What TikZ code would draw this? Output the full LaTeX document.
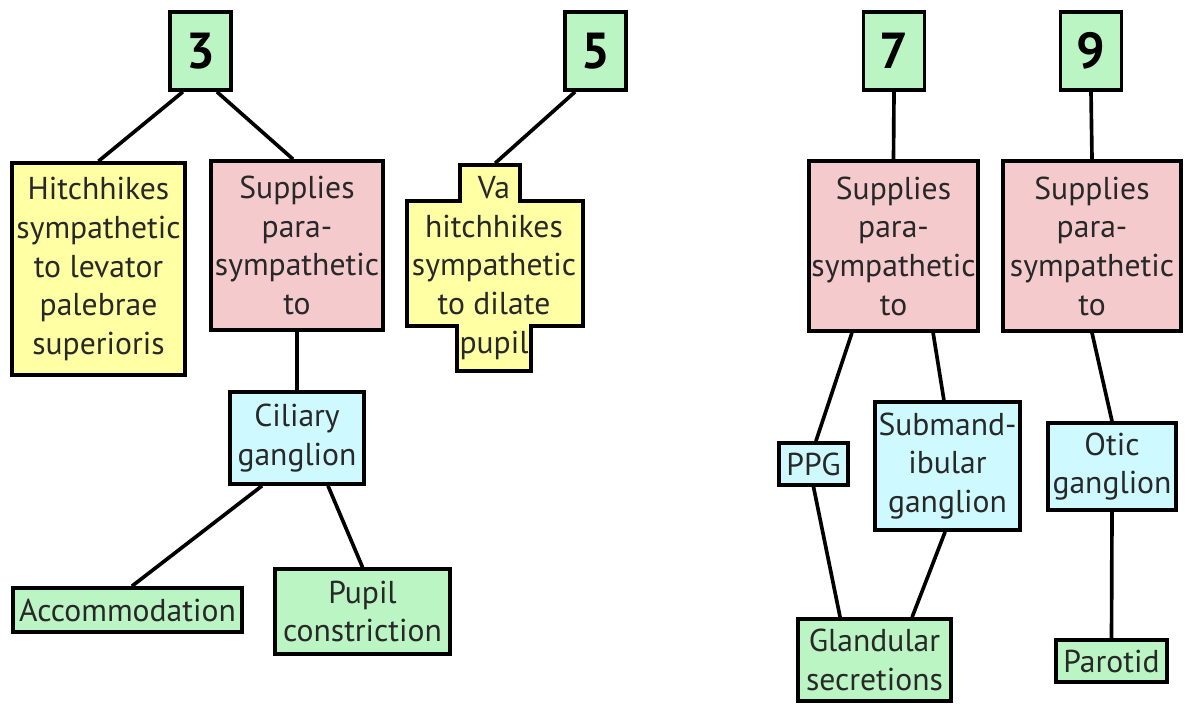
\documentclass[tikz,border=0pt]{standalone}
\usepackage{fontspec}
\setmainfont{PT Sans}
\usepackage{tikz}
\usetikzlibrary{positioning, calc}

\definecolor{numgreen}{RGB}{187,245,196}
\definecolor{hitchyellow}{RGB}{255,255,164}
\definecolor{supppink}{RGB}{245,202,204}
\definecolor{gangcyan}{RGB}{206,250,255}
\definecolor{inkgrey}{RGB}{40,40,40}

\begin{document}
\begin{tikzpicture}[
                outline/.style={line width=2.6pt},
                box/.style={draw, outline, align=center, inner sep=0pt, text=inkgrey,
                            font=\fontsize{22.5}{27.5}\selectfont},
                nerve/.style={box, fill=numgreen, minimum width=1.525cm, minimum height=1.95cm,
                              text=black, font=\fontsize{36}{36}\selectfont\bfseries},
                hitch/.style={box, fill=hitchyellow},
                supply/.style={box, fill=supppink},
                ganglion/.style={box, fill=gangcyan},
                target/.style={box, fill=numgreen},
                link/.style={outline}]

                \useasboundingbox (0,0) rectangle (29.625,-17.65);

                % Cranial nerve numbers - top row
                \node[nerve] (cn3) at (5.0125,-1.275) {3};
                \node[nerve] (cn5) at (14.8875,-1.275) {5};
                \node[nerve] (cn7) at (22.35,-1.275) {7};
                \node[nerve] (cn9) at (27.275,-1.275) {9};

                % Oculomotor - left side
                \node[hitch, minimum width=4.325cm, minimum height=5.3cm] (levator) at (2.4625,-6.725)
                    {Hitchhikes\\sympathetic\\to levator\\palebrae\\superioris};
                \node[supply, minimum width=4.3cm, minimum height=4.225cm] (supp3) at (7.425,-6.1375)
                    {Supplies\\para-\\sympathetic\\to};
                \node[ganglion, minimum width=3.35cm, minimum height=2.3cm] (ciliary) at (7.425,-10.95)
                    {Ciliary\\ganglion};
                \node[target, minimum width=5.725cm, minimum height=1.1cm] (accom) at (3.1875,-15.25)
                    {Accommodation};
                \node[target, minimum width=4.375cm, minimum height=2.125cm] (pupil) at (9.0625,-15.2875)
                    {Pupil\\constriction};

                % Trigeminal Va - cross shaped box
                \draw[outline, fill=hitchyellow] (11.5,-4.125) -- (13.0,-4.125) -- (13.0,-5.025)
                    -- (14.575,-5.025) -- (14.575,-8.15) -- (13.275,-8.15) -- (13.275,-9.275)
                    -- (11.425,-9.275) -- (11.425,-8.15) -- (10.175,-8.15) -- (10.175,-5.025)
                    -- (11.5,-5.025) -- cycle;
                \node[box, draw=none, minimum height=5.15cm] (va) at (12.35,-6.7)
                    {Va\\hitchhikes\\sympathetic\\to dilate\\pupil};

                % Facial and glossopharyngeal - right side
                \node[supply, minimum width=4.225cm, minimum height=4.25cm] (supp7) at (22.3375,-6.15)
                    {Supplies\\para-\\sympathetic\\to};
                \node[supply, minimum width=4.45cm, minimum height=4.25cm] (supp9) at (27.3,-6.15)
                    {Supplies\\para-\\sympathetic\\to};
                \node[ganglion, minimum width=1.725cm, minimum height=1.05cm] (ppg) at (20.3375,-11.6) {PPG};
                \node[ganglion, minimum width=3.625cm, minimum height=3.2cm] (submand) at (23.6875,-11.65)
                    {Submand-\\ibular\\ganglion};
                \node[ganglion, minimum width=3.2cm, minimum height=2.175cm] (otic) at (27.8,-11.6625)
                    {Otic\\ganglion};
                \node[target, minimum width=3.825cm, minimum height=2.05cm] (gland) at (21.8625,-16.5)
                    {Glandular\\secretions};
                \node[target, minimum width=2.775cm, minimum height=1.05cm] (parotid) at (27.7875,-16.525)
                    {Parotid};

                % Links
                \draw[link] ([xshift=-0.44cm]cn3.south) -- (levator.north);
                \draw[link] ([xshift=0.41cm]cn3.south) -- ([xshift=-0.1cm]supp3.north);
                \draw[link] ([xshift=-0.51cm]cn5.south) -- ([xshift=0.03cm]va.north);
                \draw[link] (supp3.south) -- (ciliary.north);
                \draw[link] ([xshift=-0.875cm]ciliary.south) -- ([xshift=0.11cm]accom.north);
                \draw[link] ([xshift=0.775cm]ciliary.south) -- (pupil.north);
                \draw[link] (cn7.south) -- (supp7.north);
                \draw[link] (cn9.south) -- (supp9.north);
                \draw[link] ([xshift=-1.04cm]supp7.south) -- ([xshift=0.06cm]ppg.north);
                \draw[link] ([xshift=0.99cm]supp7.south) -- ([xshift=-0.09cm]submand.north);
                \draw[link] (ppg.south) -- ([xshift=-0.86cm]gland.north);
                \draw[link] ([xshift=-0.06cm]submand.south) -- ([xshift=0.94cm]gland.north);
                \draw[link] (supp9.south) -- (otic.north);
                \draw[link] (otic.south) -- (parotid.north);
            \end{tikzpicture}
\end{document}
